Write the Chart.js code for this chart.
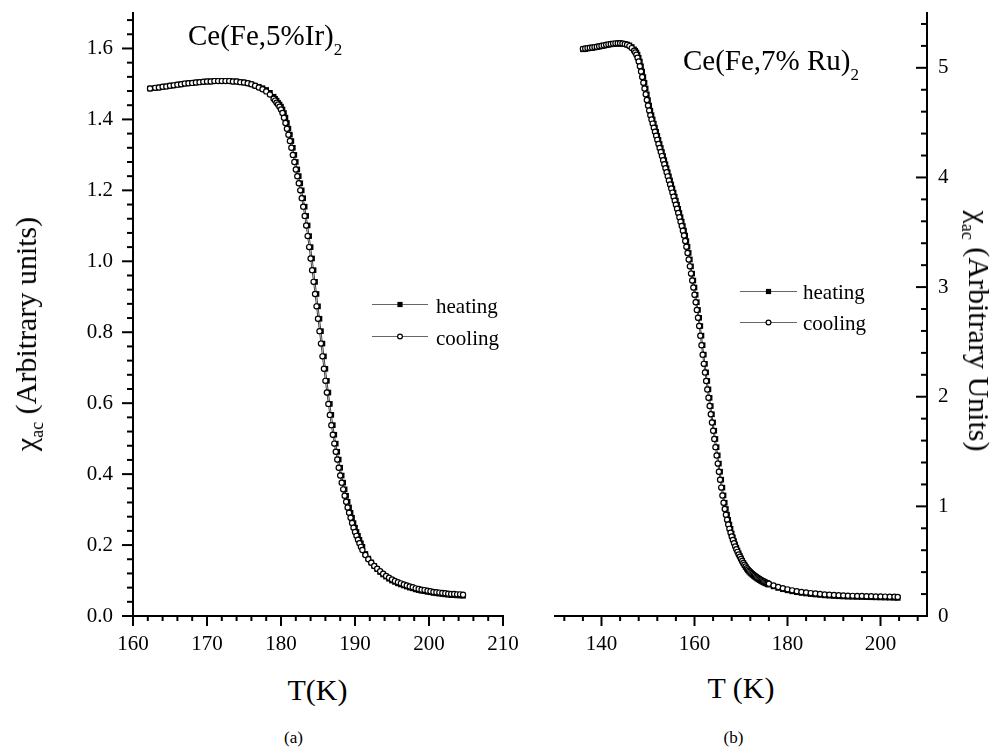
<!DOCTYPE html>
<html><head><meta charset="utf-8">
<script src="https://cdn.jsdelivr.net/npm/chart.js@4.4.1/dist/chart.umd.min.js"></script>
<style>
html,body{margin:0;padding:0;background:#fff;}
#wrap{position:relative;width:993px;height:750px;overflow:hidden;background:#fff;}
canvas{position:absolute;top:0;}
.t{position:absolute;font-family:'Liberation Serif','Times New Roman',serif;line-height:1;white-space:nowrap;color:#000;}
.sub{position:relative;}
</style></head><body>
<div id="wrap">
<canvas id="ca" width="520" height="660" style="left:0px"></canvas>
<canvas id="cb" width="473" height="660" style="left:520px"></canvas>
<div class="t" style="left:188px;top:20.7px;font-size:29px">Ce(Fe,5%Ir)<span class="sub" style="font-size:17px;top:10px">2</span></div>
<div class="t" style="left:683px;top:45.7px;font-size:29px">Ce(Fe,7% Ru)<span class="sub" style="font-size:17px;top:10px">2</span></div>
<div class="t" style="left:317.5px;top:675px;font-size:30px;transform:translateX(-50%)">T(K)</div>
<div class="t" style="left:741px;top:673px;font-size:30px;transform:translateX(-50%)">T (K)</div>
<div class="t" style="left:293.5px;top:729px;font-size:17px;transform:translateX(-50%)">(a)</div>
<div class="t" style="left:733.5px;top:729px;font-size:17px;transform:translateX(-50%)">(b)</div>
<div class="t" style="left:26px;top:334px;font-size:30px;transform:translate(-50%,-50%) rotate(-90deg)">χ<span class="sub" style="font-size:18px;top:7px">ac</span> (Arbitrary units)</div>
<div class="t" style="left:979px;top:331px;font-size:30px;transform:translate(-50%,-50%) rotate(90deg)">χ<span class="sub" style="font-size:18px;top:7px">ac</span> (Arbitrary Units)</div>
</div>
<script>
// ---------- Panel (a): Ce(Fe,5%Ir)2 ----------
const tempA = [162.3,163,163.5,164,164.5,165,165.5,166,166.5,167,167.5,168,168.5,169,169.5,170,170.5,171,171.5,172,172.5,173,173.5,174,174.5,175,175.5,176,176.5,177,177.5,178,178.5,
179,179.2,179.4,179.6,179.8,180,180.2,180.4,180.6,180.8,181,181.2,181.4,181.6,181.8,182,182.2,182.4,182.6,182.8,183,183.2,183.4,183.6,183.8,184,184.2,184.4,184.6,184.8,185,185.2,185.4,185.6,185.8,186,186.2,186.4,186.6,186.8,187,187.2,187.4,187.6,187.8,188,188.2,188.4,188.6,188.8,189,189.2,189.4,189.6,189.8,190,190.2,190.4,190.6,190.8,191,
191.4,191.8,192.2,192.6,193,193.4,193.8,194.2,194.6,195,195.4,195.8,196.2,196.6,197,197.4,197.8,198.2,198.6,199,199.4,199.8,200.2,200.6,201,201.4,201.8,202.2,202.6,203,203.4,203.8,204.2,204.6];
const coolA = [1.487,1.489,1.490,1.492,1.493,1.495,1.496,1.498,1.499,1.501,1.502,1.503,1.504,1.505,1.506,1.507,1.507,1.508,1.508,1.508,1.508,1.508,1.507,1.507,1.505,1.504,1.502,1.499,1.495,1.490,1.485,1.479,1.470,
1.458,1.453,1.447,1.442,1.436,1.428,1.418,1.405,1.390,1.374,1.357,1.339,1.320,1.300,1.280,1.259,1.240,1.220,1.200,1.178,1.154,1.128,1.101,1.071,1.040,1.008,0.975,0.942,0.908,0.873,0.838,0.803,0.768,0.732,0.697,0.663,0.630,0.598,0.567,0.538,0.511,0.486,0.463,0.441,0.418,0.396,0.376,0.357,0.339,0.322,0.306,0.291,0.277,0.262,0.249,0.237,0.226,0.215,0.205,0.195,0.186,
0.172,0.160,0.150,0.141,0.133,0.126,0.119,0.113,0.108,0.103,0.099,0.095,0.092,0.089,0.086,0.083,0.081,0.078,0.076,0.074,0.073,0.071,0.070,0.068,0.067,0.066,0.065,0.064,0.063,0.062,0.062,0.061,0.061,0.060];
const heatA = [1.487,1.489,1.490,1.492,1.493,1.495,1.496,1.498,1.499,1.501,1.502,1.503,1.504,1.505,1.506,1.507,1.507,1.508,1.508,1.508,1.508,1.508,1.507,1.507,1.505,1.504,1.502,1.499,1.495,1.492,1.488,1.483,1.475,
1.464,1.458,1.453,1.447,1.442,1.436,1.428,1.418,1.405,1.390,1.374,1.357,1.339,1.320,1.300,1.280,1.259,1.240,1.220,1.200,1.178,1.154,1.128,1.101,1.071,1.040,1.008,0.975,0.942,0.908,0.873,0.838,0.803,0.768,0.732,0.697,0.663,0.630,0.598,0.567,0.538,0.511,0.486,0.463,0.441,0.418,0.396,0.376,0.357,0.339,0.322,0.306,0.291,0.277,0.262,0.249,0.237,0.226,0.215,0.205,0.195,
0.175,0.162,0.151,0.141,0.132,0.124,0.117,0.111,0.105,0.100,0.096,0.092,0.089,0.086,0.083,0.080,0.078,0.075,0.073,0.071,0.070,0.068,0.067,0.065,0.064,0.063,0.062,0.061,0.060,0.059,0.059,0.058,0.058,0.057];
const xTicksA = [160,170,180,190,200,210];
const yTicksA = [0,0.2,0.4,0.6,0.8,1.0,1.2,1.4,1.6];

// ---------- Panel (b): Ce(Fe,7% Ru)2 ----------
const tempB = [136,136.5,137,137.5,138,138.5,139,139.5,140,140.5,141,141.5,142,142.5,143,143.5,144,144.5,145,145.5,146,146.5,147,
147.25,147.5,147.75,148,148.25,148.5,148.75,149,149.25,149.5,149.75,150,150.25,150.5,150.75,151,151.25,151.5,151.75,152,152.25,152.5,152.75,153,153.25,153.5,153.75,154,154.25,154.5,154.75,155,155.25,155.5,155.75,156,156.25,156.5,156.75,157,157.25,157.5,157.75,158,158.25,158.5,158.75,159,159.25,159.5,159.75,160,160.25,160.5,160.75,161,161.25,161.5,161.75,162,162.25,162.5,162.75,163,163.25,163.5,163.75,164,164.25,164.5,164.75,165,165.25,165.5,165.75,166,166.25,166.5,166.75,167,167.25,167.5,167.75,168,168.25,168.5,168.75,169,169.25,169.5,169.75,170,170.25,170.5,170.75,171,171.25,171.5,171.75,172,172.25,172.5,172.75,173,173.25,173.5,173.75,174,174.25,174.5,174.75,175,175.25,175.5,175.75,176,
177,178,179,180,181,182,183,184,185,186,187,188,189,190,191,192,193,194,195,196,197,198,199,200,201,202,203,203.7];
const coolB = [5.173,5.176,5.180,5.183,5.186,5.189,5.193,5.197,5.201,5.205,5.210,5.214,5.218,5.221,5.223,5.224,5.224,5.222,5.217,5.210,5.198,5.180,5.155,
5.140,5.120,5.092,5.057,5.014,4.966,4.916,4.864,4.811,4.758,4.706,4.656,4.610,4.568,4.529,4.491,4.454,4.417,4.380,4.343,4.306,4.269,4.232,4.195,4.158,4.121,4.084,4.047,4.010,3.973,3.936,3.899,3.862,3.825,3.788,3.751,3.714,3.676,3.637,3.597,3.557,3.515,3.470,3.420,3.368,3.312,3.252,3.189,3.123,3.060,2.996,2.930,2.862,2.792,2.720,2.645,2.557,2.470,2.384,2.300,2.222,2.144,2.067,1.990,1.915,1.840,1.765,1.690,1.615,1.540,1.465,1.390,1.316,1.243,1.171,1.100,1.033,0.976,0.924,0.877,0.834,0.795,0.759,0.725,0.693,0.663,0.635,0.609,0.585,0.562,0.541,0.521,0.502,0.484,0.467,0.451,0.436,0.424,0.413,0.403,0.393,0.384,0.375,0.367,0.359,0.351,0.344,0.337,0.331,0.325,0.319,0.314,0.309,0.304,0.299,0.295,
0.279,0.265,0.253,0.243,0.234,0.226,0.219,0.214,0.209,0.205,0.201,0.197,0.194,0.191,0.189,0.187,0.185,0.184,0.183,0.182,0.181,0.180,0.179,0.178,0.177,0.176,0.175,0.174];
const heatB = [5.169,5.172,5.176,5.179,5.182,5.185,5.189,5.193,5.197,5.201,5.206,5.210,5.214,5.217,5.219,5.220,5.220,5.219,5.216,5.212,5.205,5.190,5.168,
5.155,5.140,5.120,5.092,5.057,5.014,4.966,4.916,4.864,4.811,4.758,4.706,4.656,4.610,4.568,4.529,4.491,4.454,4.417,4.380,4.343,4.306,4.269,4.232,4.195,4.158,4.121,4.084,4.047,4.010,3.973,3.936,3.899,3.862,3.825,3.788,3.751,3.714,3.676,3.637,3.597,3.557,3.515,3.470,3.420,3.368,3.312,3.252,3.189,3.123,3.060,2.996,2.930,2.862,2.792,2.720,2.645,2.557,2.470,2.384,2.300,2.222,2.144,2.067,1.990,1.915,1.840,1.765,1.690,1.615,1.540,1.465,1.390,1.316,1.243,1.171,1.100,1.033,0.976,0.924,0.877,0.834,0.795,
0.752,0.717,0.684,0.653,0.624,0.597,0.572,0.548,0.526,0.504,0.484,0.465,0.447,0.431,0.417,0.405,0.394,0.384,0.375,0.366,0.358,0.350,0.342,0.335,0.328,0.322,0.316,0.310,0.305,0.300,0.295,0.290,0.286,
0.270,0.256,0.244,0.234,0.225,0.217,0.210,0.205,0.200,0.196,0.192,0.188,0.185,0.182,0.180,0.178,0.176,0.175,0.174,0.173,0.172,0.171,0.170,0.169,0.168,0.167,0.166,0.165];
const xTicksB = [140,160,180,200];
const yTicksB = [0,1,2,3,4,5];

const seriesNames = ['heating','cooling'];

function pts(t, v){ return t.map((x,i)=>({x:x, y:v[i]})); }

const FONT = "'Liberation Serif','Times New Roman',serif";
Chart.defaults.font.family = FONT;
Chart.defaults.color = '#000';

const tickPlugin = {
  id: 'axisTicks',
  afterDraw(chart, args, opts) {
    const ctx = chart.ctx;
    ctx.save();
    ctx.strokeStyle = '#000';
    ctx.lineWidth = 2;
    for (const a of opts.axes) {
      const s = chart.scales[a.id];
      const n = Math.round((a.to - a.from) / a.step);
      for (let k = 0; k <= n; k++) {
        const v = a.from + k * a.step;
        const r = v / a.majorStep;
        const isMajor = Math.abs(r - Math.round(r)) < 1e-6;
        const len = isMajor ? a.major : a.minor;
        const p = s.getPixelForValue(v);
        ctx.beginPath();
        if (a.side === 'bottom') { ctx.moveTo(p, s.top); ctx.lineTo(p, s.top + len); }
        else if (a.side === 'left') { ctx.moveTo(s.right, p); ctx.lineTo(s.right - len, p); }
        else { ctx.moveTo(s.left, p); ctx.lineTo(s.left - len, p); }
        ctx.stroke();
      }
    }
    ctx.restore();
  }
};

const legendPlugin = {
  id: 'lineLegend',
  afterDraw(chart, args, opts) {
    const ctx = chart.ctx;
    ctx.save();
    chart.data.datasets.forEach((ds, i) => {
      const y = opts.ys[i];
      ctx.strokeStyle = '#666'; ctx.lineWidth = 1;
      ctx.beginPath(); ctx.moveTo(opts.x1, y + 0.5); ctx.lineTo(opts.x2, y + 0.5); ctx.stroke();
      const mx = (opts.x1 + opts.x2) / 2;
      ctx.fillStyle = ds.pointBackgroundColor;
      ctx.strokeStyle = ds.pointBorderColor;
      ctx.lineWidth = ds.pointBorderWidth;
      if (ds.pointStyle === 'rect') {
        const h = 2.6;
        ctx.fillRect(mx - h, y + 0.5 - h, 2 * h, 2 * h);
      } else {
        ctx.beginPath(); ctx.arc(mx, y + 0.5, 2.4, 0, Math.PI * 2);
        ctx.fill(); ctx.stroke();
      }
      ctx.fillStyle = '#000';
      ctx.font = '21px ' + FONT;
      ctx.textBaseline = 'alphabetic'; ctx.textAlign = 'left';
      ctx.fillText(ds.label, opts.tx, y + opts.dy);
    });
    ctx.restore();
  }
};

const hiddenGrid = len => ({ display: true, drawOnChartArea: false, drawTicks: true, tickLength: len,
                             color: 'rgba(0,0,0,0)', tickColor: 'rgba(0,0,0,0)' });

function makeChart(el, o) {
  return new Chart(el, {
    type: 'scatter',
    data: { datasets: [
      { label: seriesNames[0], data: pts(o.t, o.heat), order: 1, showLine: true,
        borderColor: '#444', borderWidth: 1, pointStyle: 'rect', pointRadius: 4,
        pointBackgroundColor: '#000', pointBorderColor: '#000', pointBorderWidth: 0 },
      { label: seriesNames[1], data: pts(o.t, o.cool), order: 0, showLine: true,
        borderColor: '#444', borderWidth: 1, pointStyle: 'circle', pointRadius: 2.6,
        pointBackgroundColor: '#fff', pointBorderColor: '#000', pointBorderWidth: 1.2 }
    ]},
    options: {
      responsive: false, animation: false, events: [],
      layout: { padding: o.padding },
      plugins: {
        legend: { display: false }, tooltip: { enabled: false },
        axisTicks: { axes: o.tickAxes },
        lineLegend: o.legend
      },
      scales: {
        x: {
          type: 'linear', position: 'bottom', min: o.xmin, max: o.xmax,
          afterBuildTicks: s => { s.ticks = o.xTicks.map(v => ({ value: v })); },
          afterFit: s => { s.height = 44; },
          grid: hiddenGrid(16),
          border: { display: true, color: '#000', width: 2 },
          ticks: { padding: 0, color: '#000', font: { size: 21, family: FONT }, maxRotation: 0, autoSkip: false,
                    callback: v => String(v) }
        },
        y: {
          type: 'linear', position: o.ypos, min: 0, max: o.ymax,
          afterBuildTicks: s => { s.ticks = o.yTicks.map(v => ({ value: v })); },
          afterFit: s => { s.width = o.yWidth; },
          grid: hiddenGrid(o.yPad),
          border: { display: true, color: '#000', width: 2 },
          ticks: { padding: 0, color: '#000', font: { size: 21, family: FONT }, autoSkip: false,
                    callback: v => o.yFmt(v) }
        }
      }
    },
    plugins: [tickPlugin, legendPlugin]
  });
}

makeChart(document.getElementById('ca'), {
  t: tempA, heat: heatA, cool: coolA, xmin: 160, xmax: 210, ymax: 1.7,
  xTicks: xTicksA, yTicks: yTicksA, ypos: 'left', yWidth: 133, yPad: 20,
  yFmt: v => v.toFixed(1),
  padding: { left: 0, right: 17, top: 13, bottom: 0 },
  tickAxes: [
    { id: 'x', from: 160, to: 210, step: 2, majorStep: 10, major: 10, minor: 5, side: 'bottom' },
    { id: 'y', from: 0, to: 1.68, step: 0.04, majorStep: 0.2, major: 11, minor: 6, side: 'left' }
  ],
  legend: { x1: 372, x2: 428, ys: [304, 336], tx: 436, dy: 8.5 }
});

makeChart(document.getElementById('cb'), {
  t: tempB, heat: heatB, cool: coolB, xmin: 130, xmax: 210, ymax: 5.5,
  xTicks: xTicksB, yTicks: yTicksB, ypos: 'right', yWidth: 66, yPad: 11,
  yFmt: v => String(v),
  padding: { left: 35, right: 0, top: 13, bottom: 0 },
  tickAxes: [
    { id: 'x', from: 132, to: 208, step: 4, majorStep: 20, major: 10, minor: 5, side: 'bottom' },
    { id: 'y', from: 0, to: 5.4, step: 0.2, majorStep: 1, major: 11, minor: 6, side: 'rightIn' }
  ],
  legend: { x1: 220, x2: 277, ys: [291, 322], tx: 283, dy: 8 }
});
</script>
</body></html>
